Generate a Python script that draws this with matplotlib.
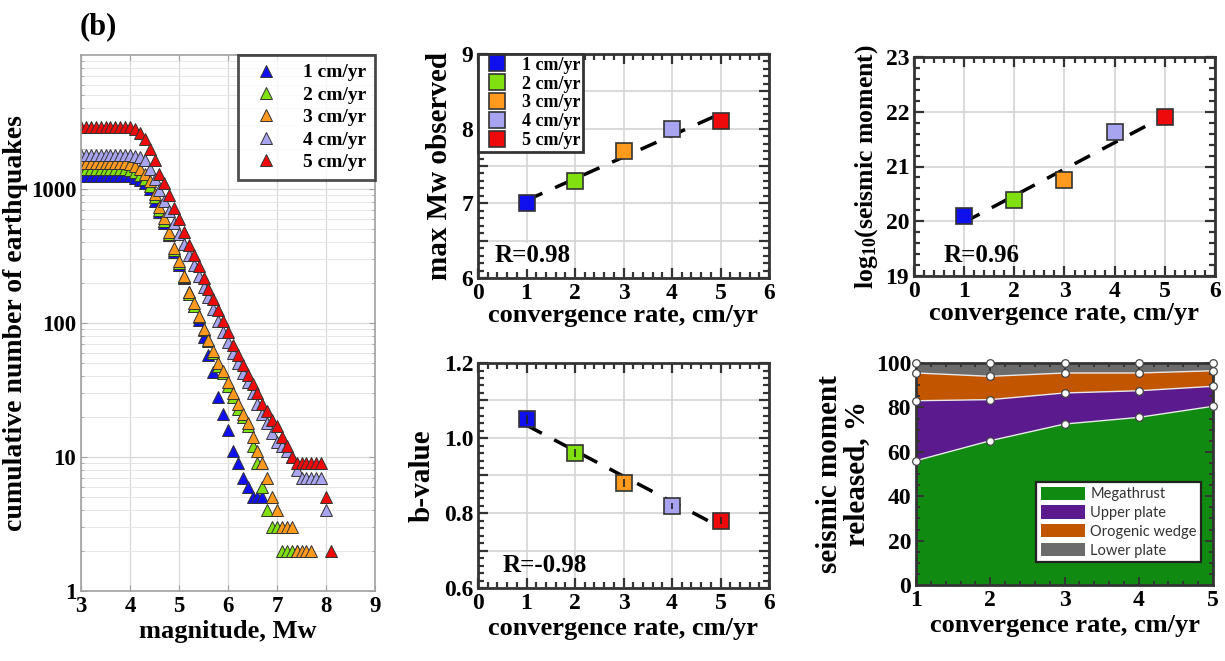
import numpy as np
import matplotlib
matplotlib.use("Agg")
import matplotlib.pyplot as plt
from matplotlib.ticker import MultipleLocator, FuncFormatter, LogLocator, NullFormatter

plt.rcParams.update({
    "font.family": "Liberation Serif",
    "font.weight": "bold",
    "axes.labelweight": "bold",
    "mathtext.fontset": "custom",
    "mathtext.rm": "Liberation Serif:bold",
    "mathtext.bf": "Liberation Serif:bold",
    "mathtext.default": "bf",
    "xtick.direction": "in",
    "ytick.direction": "in",
    "xtick.top": True,
    "ytick.right": True,
})

# ---- data -------------------------------------------------------------
rates = [1, 2, 3, 4, 5]
rate_labels = ["1 cm/yr", "2 cm/yr", "3 cm/yr", "4 cm/yr", "5 cm/yr"]
colors = ["#1010ee", "#80e010", "#ff9a1e", "#a8a4f0", "#ee0a0a"]

# cumulative number of earthquakes, magnitude bins start at 3.0, step 0.1
n_1 = [1250, 1250, 1250, 1250, 1250, 1250, 1250, 1250, 1250, 1250,
       1240, 1200, 1160, 1100, 1000, 820, 670, 560, 450, 340,
       270, 215, 170, 135, 105, 78, 58, 43, 28, 21,
       16, 11, 9, 7, 6, 5, 5, 5]
n_2 = [1400, 1400, 1400, 1400, 1400, 1400, 1400, 1400, 1400, 1400,
       1380, 1330, 1270, 1180, 1050, 870, 700, 580, 460, 350,
       280, 220, 165, 135, 110, 88, 73, 60, 48, 42,
       34, 28, 23, 20, 17, 12, 9, 6, 4, 3,
       3, 2, 2, 2, 2]
n_3 = [1550, 1550, 1550, 1550, 1550, 1550, 1550, 1550, 1550, 1550,
       1530, 1480, 1400, 1300, 1150, 920, 740, 610, 480, 360,
       290, 225, 170, 140, 112, 90, 75, 62, 50, 44,
       36, 30, 25, 21, 18, 14, 11, 9, 7, 5,
       4, 3, 3, 3, 2, 2, 2, 2]
n_4 = [1800, 1800, 1800, 1800, 1800, 1800, 1800, 1800, 1800, 1800,
       1790, 1760, 1720, 1650, 1420, 1180, 980, 820, 680, 560,
       460, 390, 320, 270, 225, 185, 155, 128, 103, 85,
       72, 60, 50, 42, 36, 30, 25, 21, 18, 15,
       13, 12, 11, 10, 8, 7, 7, 7, 7, 7, 4]
n_5 = [2900, 2900, 2900, 2900, 2900, 2900, 2900, 2900, 2900, 2900,
       2880, 2800, 2600, 2350, 2000, 1650, 1300, 1100, 900, 720,
       600, 480, 380, 320, 265, 215, 180, 150, 125, 103,
       85, 68, 58, 49, 41, 35, 30, 25, 22, 19,
       17, 14, 12, 10, 9, 9, 9, 9, 9, 9, 5, 2]
counts = [n_1, n_2, n_3, n_4, n_5]

max_mw = [7.0, 7.3, 7.7, 8.0, 8.1]
log_m0 = [20.1, 20.38, 20.75, 21.63, 21.9]
b_value = [1.05, 0.96, 0.88, 0.82, 0.78]
b_err = [0.012, 0.01, 0.01, 0.008, 0.01]

megathrust = [56, 65, 72.5, 75.5, 80.5]
upper_plate = [27, 18.5, 14, 12, 9]
orogenic = [12.5, 10.5, 9, 8, 7]
lower_plate = [4.5, 6, 4.5, 4.5, 3.5]
layer_names = ["Megathrust", "Upper plate", "Orogenic wedge", "Lower plate"]
layer_colors = ["#108a10", "#5b1a8e", "#c25500", "#6b6b6b"]

# ---- figure -------------------------------------------------------------
W, H = 1225, 661
fig = plt.figure(figsize=(W / 100, H / 100), dpi=100)


def px_axes(x0, y0, x1, y1):
    return fig.add_axes([x0 / W, 1 - y1 / H, (x1 - x0) / W, (y1 - y0) / H])


TICK_FS = 17
XLAB_FS = 19
YLAB_FS = 21

# left: cumulative number
ax = px_axes(81, 55, 375, 591)
for n, c, lab in zip(counts, colors, rate_labels):
    mags = 3.0 + 0.1 * np.arange(len(n))
    ax.semilogy(mags, n, "^", ms=8, mfc=c, mec="#333333", mew=0.7, label=lab)
ax.set_xlim(3, 9)
ax.set_ylim(1, 1e4)
ax.set_xticks([3, 4, 5, 6, 7, 8, 9])
ax.set_yticks([1, 10, 100, 1000])
ax.set_yticklabels(["1", "10", "100", "1000"])
ax.yaxis.set_minor_locator(LogLocator(base=10, subs=np.arange(2, 10)))
ax.yaxis.set_minor_formatter(NullFormatter())
ax.grid(True, which="major", color="#d8d8d8", lw=0.9)
ax.grid(True, which="minor", axis="y", color="#e6e6e6", lw=0.7)
ax.set_axisbelow(True)
for s in ax.spines.values():
    s.set_color("#a0a0a0")
    s.set_linewidth(1.2)
ax.tick_params(which="both", colors="#a0a0a0", labelcolor="black", labelsize=16.5)
ax.tick_params(which="major", length=4)
ax.tick_params(which="minor", length=2)
ax.set_xlabel("magnitude, Mw", fontsize=XLAB_FS, labelpad=2)
ax.set_ylabel("cumulative number of earthquakes", fontsize=YLAB_FS - 1, labelpad=2)
leg = ax.legend(loc="upper right", fontsize=14, frameon=True, fancybox=False,
                borderpad=0.45, labelspacing=0.25, handletextpad=0.9,
                borderaxespad=0.0, markerscale=1.0)
leg.get_frame().set_edgecolor("#222222")
leg.get_frame().set_linewidth(2)
fig.text(80 / W, 1 - 27 / H, "(b)", fontsize=22, fontweight="bold", va="center")


def style_box(ax):
    for s in ax.spines.values():
        s.set_color("#333333")
        s.set_linewidth(2)
    ax.tick_params(which="both", colors="#333333", labelcolor="black",
                   labelsize=TICK_FS, width=1.6)
    ax.tick_params(which="major", length=7)
    ax.tick_params(which="minor", length=4)
    ax.grid(True, which="major", color="#d4d4d4", lw=1.2)
    ax.set_axisbelow(True)


def fit_line(ax, x, y):
    p = np.polyfit(x, y, 1)
    xx = np.array([x[0], x[-1]])
    ax.plot(xx, np.polyval(p, xx), color="black", lw=2.5, dashes=(5, 4), zorder=2)


def squares(ax, y):
    for xi, yi, c, lab in zip(rates, y, colors, rate_labels):
        ax.plot(xi, yi, "s", ms=11, mfc=c, mec="#333333", mew=1.2, label=lab, zorder=3)


int_fmt = FuncFormatter(lambda v, p: "%d" % round(v) if abs(v - round(v)) < 1e-6 else "")

# middle top: max Mw
ax1 = px_axes(478, 54, 769, 278)
fit_line(ax1, rates, max_mw)
squares(ax1, max_mw)
ax1.set_xlim(0, 6)
ax1.set_ylim(6, 9)
ax1.xaxis.set_major_locator(MultipleLocator(1))
ax1.xaxis.set_minor_locator(MultipleLocator(0.2))
ax1.yaxis.set_major_locator(MultipleLocator(0.5))
ax1.yaxis.set_minor_locator(MultipleLocator(0.1))
ax1.yaxis.set_major_formatter(int_fmt)
style_box(ax1)
ax1.set_xlabel("convergence rate, cm/yr", fontsize=XLAB_FS, labelpad=0)
ax1.set_ylabel("max Mw observed", fontsize=YLAB_FS, labelpad=6)
ax1.text(0.35, 6.3, "R=0.98", fontsize=18, fontweight="bold", va="center",
         bbox=dict(fc="white", ec="none", pad=1))
leg1 = ax1.legend(loc="upper left", fontsize=13, frameon=True, fancybox=False,
                  borderpad=0.15, labelspacing=0.1, handletextpad=0.5,
                  borderaxespad=0.0, handlelength=1.8, framealpha=1)
leg1.get_frame().set_edgecolor("#333333")
leg1.get_frame().set_linewidth(2)

# right top: log10 seismic moment
ax2 = px_axes(914, 57, 1215, 276)
fit_line(ax2, rates, log_m0)
squares(ax2, log_m0)
ax2.set_xlim(0, 6)
ax2.set_ylim(19, 23)
ax2.xaxis.set_major_locator(MultipleLocator(1))
ax2.xaxis.set_minor_locator(MultipleLocator(0.2))
ax2.yaxis.set_major_locator(MultipleLocator(1))
ax2.yaxis.set_minor_locator(MultipleLocator(0.2))
style_box(ax2)
ax2.set_xlabel("convergence rate, cm/yr", fontsize=XLAB_FS, labelpad=0)
ax2.set_ylabel(r"log$_{10}$(seismic moment)", fontsize=YLAB_FS - 2.5, labelpad=4)
ax2.text(0.58, 19.38, "R=0.96", fontsize=18, fontweight="bold", va="center")

# middle bottom: b-value
ax3 = px_axes(478, 363, 769, 588)
fit_line(ax3, rates, b_value)
squares(ax3, b_value)
ax3.errorbar(rates, b_value, yerr=b_err, fmt="none", ecolor="#222222",
             elinewidth=1.2, capsize=0, zorder=4)
ax3.set_xlim(0, 6)
ax3.set_ylim(0.6, 1.2)
ax3.xaxis.set_major_locator(MultipleLocator(1))
ax3.xaxis.set_minor_locator(MultipleLocator(0.2))
ax3.yaxis.set_major_locator(MultipleLocator(0.1))
ax3.yaxis.set_minor_locator(MultipleLocator(0.02))
ax3.yaxis.set_major_formatter(FuncFormatter(
    lambda v, p: "%.1f" % v if round(v * 10) % 2 == 0 else ""))
style_box(ax3)
ax3.set_xlabel("convergence rate, cm/yr", fontsize=XLAB_FS, labelpad=2)
ax3.set_ylabel("b-value", fontsize=YLAB_FS, labelpad=6)
ax3.text(0.5, 0.661, "R=-0.98", fontsize=18, fontweight="bold", va="center")

# right bottom: stacked area
ax4 = px_axes(916, 363, 1213, 585)
layers = [megathrust, upper_plate, orogenic, lower_plate]
ax4.stackplot(rates, layers, colors=layer_colors, labels=layer_names,
              edgecolor="none", zorder=1)
cum = np.cumsum(np.array(layers), axis=0)
for row in cum:
    ax4.plot(rates, row, color="#e8e8e8", lw=1.0, zorder=2)
    ax4.plot(rates, row, "o", ms=5.5, mfc="white", mec="#444444", mew=0.9,
             zorder=3, clip_on=False)
ax4.set_xlim(1, 5)
ax4.set_ylim(0, 100)
ax4.xaxis.set_major_locator(MultipleLocator(1))
ax4.xaxis.set_minor_locator(MultipleLocator(0.2))
ax4.yaxis.set_major_locator(MultipleLocator(20))
ax4.yaxis.set_minor_locator(MultipleLocator(5))
for s in ax4.spines.values():
    s.set_color("#333333")
    s.set_linewidth(2)
ax4.tick_params(which="both", colors="#333333", labelcolor="black",
                labelsize=TICK_FS, width=1.4)
ax4.tick_params(which="major", length=6)
ax4.tick_params(which="minor", length=3)
ax4.set_xlabel("convergence rate, cm/yr", fontsize=XLAB_FS, labelpad=2)
ax4.set_ylabel("seismic moment\nreleased, %", fontsize=YLAB_FS, labelpad=4,
               linespacing=1.0)
leg4 = ax4.legend(loc="lower right", bbox_to_anchor=(0.985, 0.07),
                  prop={"family": "Lato", "weight": "normal", "size": 10.5},
                  labelcolor="#333333",
                  frameon=True, fancybox=False, borderpad=0.3,
                  labelspacing=0.3, handlelength=3.0, handleheight=1.0,
                  handletextpad=0.4, framealpha=1)
leg4.get_frame().set_edgecolor("#222222")
leg4.get_frame().set_linewidth(1.6)

fig.savefig("out.png", dpi=100)
